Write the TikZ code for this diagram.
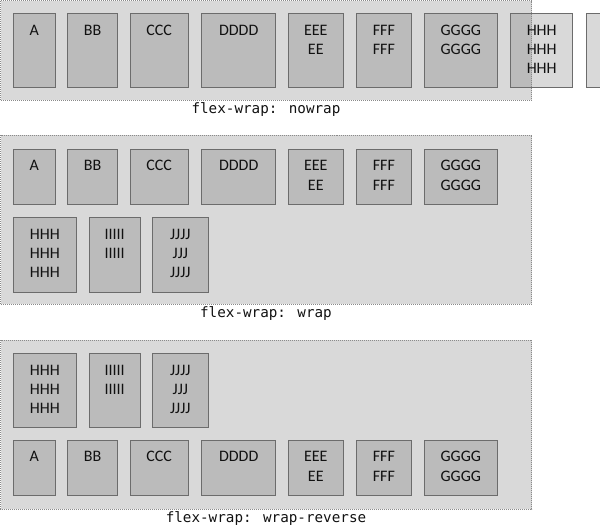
\documentclass[tikz,border=0pt]{standalone}
\usepackage{fontspec}
\newfontfamily\boxfont{Carlito}
\newfontfamily\labfont{DejaVu Sans Mono}
\definecolor{contfill}{HTML}{D9D9D9}
\definecolor{contline}{HTML}{8A8A8A}
\definecolor{boxfill}{HTML}{BBBBBB}
\definecolor{boxline}{HTML}{6C6C6C}
\definecolor{txt}{HTML}{111111}
\tikzset{
  container/.style={fill=contfill},
  containerline/.style={draw=contline,line width=0.75pt,dash pattern=on 0.75pt off 0.75pt},
  flexbox/.style={fill=boxfill,draw=boxline,line width=0.75pt},
  lightbox/.style={fill=contfill,draw=boxline,line width=0.75pt},
  boxtext/.style={anchor=base,inner sep=0pt,text=txt,font=\boxfont\fontsize{12}{14.5}\selectfont},
  captext/.style={anchor=base,inner sep=0pt,text=txt,font=\labfont\fontsize{10.7}{13}\selectfont},
}
% name, x1, y1, x2, y2, lines
\newcommand\flexitem[6]{%
  \path[flexbox] (#2,#3) rectangle (#4,#5);
  \flextext{#1}{#2}{#3}{#4}{#6}%
}
\newcommand\flextext[5]{%
  \foreach \t [count=\k from 0] in {#5} {
    \node[boxtext] (#1-\k) at ({(#2+#4)/2},{#3+21.7+19.3*\k}) {\t};
  }%
}
\begin{document}
\begin{tikzpicture}[x=0.75pt,y=-0.75pt]
\useasboundingbox (0,0) rectangle (600,526);
% ---------------- container 1: nowrap
\path[container] (0.5,0.5) rectangle (531.7,100);
\flexitem{a1}{13.3}{13.3}{55}{87.7}{A}
\flexitem{b1}{67.7}{13.3}{117.3}{87.7}{BB}
\flexitem{c1}{130}{13.3}{188.3}{87.7}{CCC}
\flexitem{d1}{201.7}{13.3}{275.7}{87.7}{DDDD}
\flexitem{e1}{288.3}{13.3}{343.3}{87.7}{EEE,EE}
\flexitem{f1}{356.7}{13.3}{411}{87.7}{FFF,FFF}
\flexitem{g1}{424.3}{13.3}{497.3}{87.7}{GGGG,GGGG}
% overflowing H
\path[fill=contfill] (510.7,13.3) rectangle (572.7,87.7);
\path[fill=boxfill] (510.7,13.3) rectangle (531.7,87.7);
\draw[boxline,line width=0.75pt] (510.7,13.3) rectangle (572.7,87.7);
% overflowing I (cut by page edge)
\draw[lightbox] (586,13.3) rectangle (602,87.7);
\draw[containerline] (0.5,0.5) rectangle (531.7,100);
\flextext{h1}{510.7}{13.3}{572.7}{HHH,HHH,HHH}
\node[captext] (cap1) at (266,113.5) {flex-wrap: nowrap};
% ---------------- container 2: wrap
\path[container] (0.5,135) rectangle (531.7,304.3);
\flexitem{a2}{13.3}{149}{55}{204.3}{A}
\flexitem{b2}{67.7}{149}{117.3}{204.3}{BB}
\flexitem{c2}{130}{149}{188.3}{204.3}{CCC}
\flexitem{d2}{201.7}{149}{275.7}{204.3}{DDDD}
\flexitem{e2}{288.3}{149}{343.3}{204.3}{EEE,EE}
\flexitem{f2}{356.7}{149}{411}{204.3}{FFF,FFF}
\flexitem{g2}{424.3}{149}{497.3}{204.3}{GGGG,GGGG}
\flexitem{h2}{13.3}{217.3}{76.3}{292.3}{HHH,HHH,HHH}
\flexitem{i2}{89.3}{217.3}{140}{292.3}{IIIII,IIIII}
\flexitem{j2}{152.3}{217.3}{208.3}{292.3}{JJJJ,JJJ,JJJJ}
\draw[containerline] (0.5,135) rectangle (531.7,304.3);
\node[captext] (cap2) at (266,317.8) {flex-wrap: wrap};
% ---------------- container 3: wrap-reverse
\path[container] (0.5,340) rectangle (531.7,509);
\flexitem{h3}{13.3}{353.3}{76.3}{427.7}{HHH,HHH,HHH}
\flexitem{i3}{89.3}{353.3}{140}{427.7}{IIIII,IIIII}
\flexitem{j3}{152.3}{353.3}{208.3}{427.7}{JJJJ,JJJ,JJJJ}
\flexitem{a3}{13.3}{440}{55}{495.7}{A}
\flexitem{b3}{67.7}{440}{117.3}{495.7}{BB}
\flexitem{c3}{130}{440}{188.3}{495.7}{CCC}
\flexitem{d3}{201.7}{440}{275.7}{495.7}{DDDD}
\flexitem{e3}{288.3}{440}{343.3}{495.7}{EEE,EE}
\flexitem{f3}{356.7}{440}{411}{495.7}{FFF,FFF}
\flexitem{g3}{424.3}{440}{497.3}{495.7}{GGGG,GGGG}
\draw[containerline] (0.5,340) rectangle (531.7,509);
\node[captext] (cap3) at (266,522) {flex-wrap: wrap-reverse};
\end{tikzpicture}
\end{document}
